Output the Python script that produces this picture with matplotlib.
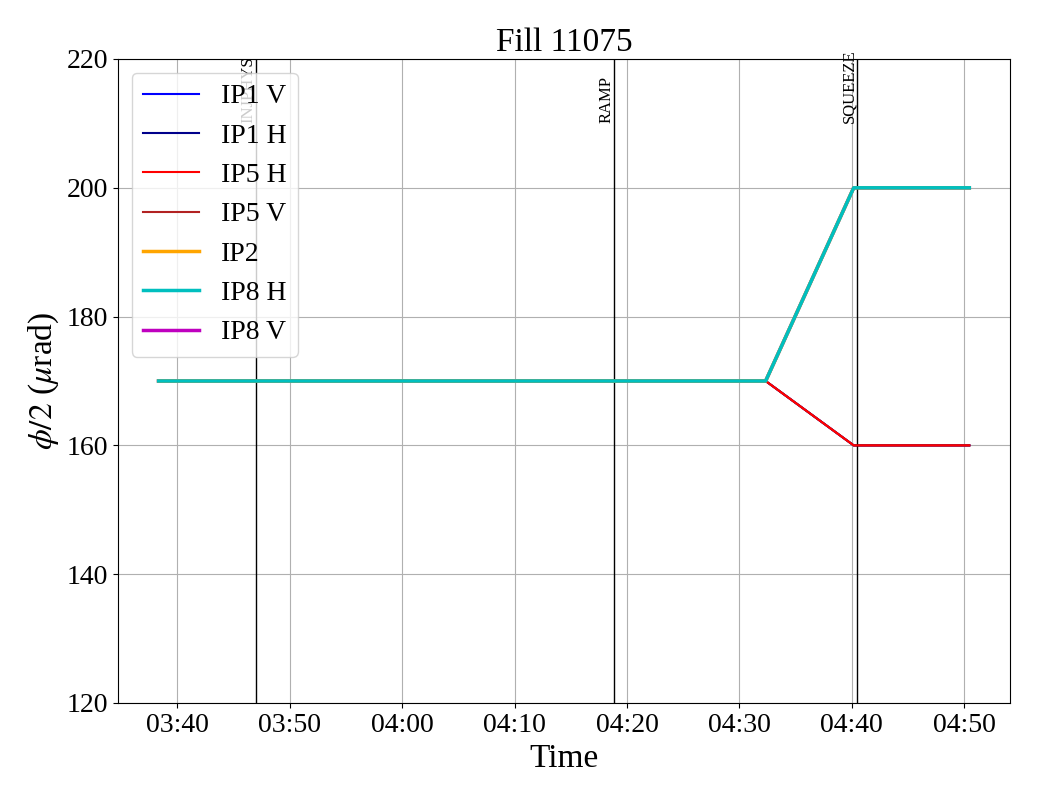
import matplotlib
matplotlib.use("Agg")
import matplotlib.pyplot as plt
import matplotlib.dates as mdates
from datetime import datetime

plt.rcParams['font.family'] = ['Liberation Serif', 'DejaVu Serif']
plt.rcParams['mathtext.fontset'] = 'stix'

day = "2025-07-10 "
times = ["03:38:20", "04:32:20", "04:40:10", "04:50:27"]
ip1_v = [170, 170, 160, 160]
ip1_h = [170, 170, 160, 160]
ip5_h = [170, 170, 160, 160]
ip5_v = [170, 170, 160, 160]
ip2 = [170, 170, 200, 200]
ip8_h = [170, 170, 200, 200]
ip8_v = [170, 170, 200, 200]

mode_names = ["INJPHYS", "RAMP", "SQUEEZE"]
mode_times = ["03:47:00", "04:18:52", "04:40:30"]

t = [datetime.strptime(day + s, "%Y-%m-%d %H:%M:%S") for s in times]
mt = [datetime.strptime(day + s, "%Y-%m-%d %H:%M:%S") for s in mode_times]

fig = plt.figure(figsize=(10.4, 8), dpi=100)
ax = fig.add_axes([0.1135, 0.12125, 0.8575, 0.805])

# draw order so that red and cyan are on top
ax.plot(t, ip8_v, color='m', lw=2.5, label='IP8 V', zorder=2)
ax.plot(t, ip2, color='orange', lw=2.5, label='IP2', zorder=2.1)
ax.plot(t, ip8_h, color='c', lw=2.5, label='IP8 H', zorder=2.2)
ax.plot(t, ip1_v, color='blue', lw=1.5, label='IP1 V', zorder=2)
ax.plot(t, ip1_h, color='darkblue', lw=1.5, label='IP1 H', zorder=2)
ax.plot(t, ip5_v, color='firebrick', lw=1.5, label='IP5 V', zorder=2)
ax.plot(t, ip5_h, color='red', lw=1.5, label='IP5 H', zorder=2.05)

for name, x in zip(mode_names, mt):
    ax.axvline(x, color='black', lw=1)
    ax.text(x, 210, name, rotation=90, ha='right', va='bottom', fontsize=12)

ax.set_ylim(120, 220)
ax.set_yticks([120, 140, 160, 180, 200, 220])
ax.xaxis.set_major_locator(mdates.MinuteLocator(byminute=range(0, 60, 10)))
ax.xaxis.set_major_formatter(mdates.DateFormatter('%H:%M'))
ax.tick_params(labelsize=20)
ax.grid(True)
ax.set_xlabel('Time', fontsize=24)
ax.set_ylabel(r'$\phi/2$ ($\mu$rad)', fontsize=24)
ax.set_title('Fill 11075', fontsize=24)

handles, labels = ax.get_legend_handles_labels()
order = ['IP1 V', 'IP1 H', 'IP5 H', 'IP5 V', 'IP2', 'IP8 H', 'IP8 V']
hmap = dict(zip(labels, handles))
ax.legend([hmap[k] for k in order], order, loc='upper left', fontsize=20)

fig.savefig('out.png', dpi=100)
